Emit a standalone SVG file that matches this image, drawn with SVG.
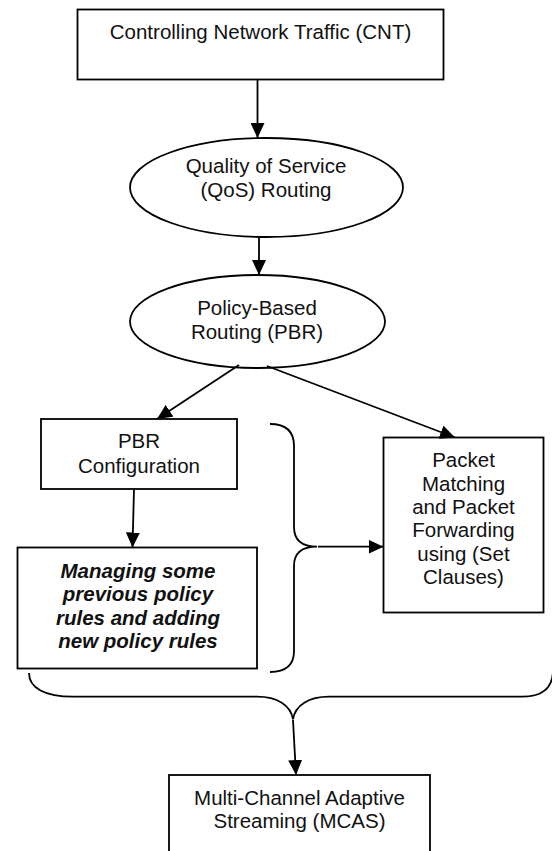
<svg xmlns="http://www.w3.org/2000/svg" width="552" height="851" viewBox="0 0 552 851">
<style>
.shape{fill:#fff;stroke:#000;stroke-width:1.8}
.brace{fill:none;stroke:#000;stroke-width:1.8}
.conn{fill:none;stroke:#000;stroke-width:1.8}
text{font-family:"Liberation Sans",Arial,sans-serif;font-size:20.5px;fill:#111;text-anchor:middle}
.bi{font-weight:bold;font-style:italic}
</style>
<defs>
<marker id="arr" markerUnits="userSpaceOnUse" markerWidth="15" markerHeight="14" viewBox="0 0 15 14" refX="15" refY="7" orient="auto">
<path d="M0,0 L15,7 L0,14 z" fill="#000"/>
</marker>
</defs>
<rect width="552" height="851" fill="#fff"/>
<g id="cnt">
<rect class="shape" x="77.5" y="9.5" width="366" height="70"/>
<text x="260.5" y="39">Controlling Network Traffic (CNT)</text>
</g>
<g id="qos">
<ellipse class="shape" cx="266.5" cy="187.5" rx="136.5" ry="49.5"/>
<text x="266" y="173">Quality of Service</text>
<text x="266" y="197">(QoS) Routing</text>
</g>
<g id="pbr">
<ellipse class="shape" cx="257.5" cy="321.5" rx="127.5" ry="46.5"/>
<text x="257" y="315">Policy-Based</text>
<text x="257" y="338.5">Routing (PBR)</text>
</g>
<g id="pbrconf">
<rect class="shape" x="41" y="419" width="196" height="70"/>
<text x="139" y="448">PBR</text>
<text x="139" y="472.5">Configuration</text>
</g>
<g id="managing">
<rect class="shape" x="17.5" y="547.5" width="239.5" height="121"/>
<text class="bi" x="138" y="577.5">Managing some</text>
<text class="bi" x="138" y="601">previous policy</text>
<text class="bi" x="138" y="624.5">rules and adding</text>
<text class="bi" x="138" y="647.5">new policy rules</text>
</g>
<g id="packet">
<rect class="shape" x="383.5" y="437.5" width="160" height="175"/>
<text x="463.5" y="467.3">Packet</text>
<text x="463.5" y="490.6">Matching</text>
<text x="463.5" y="513.9">and Packet</text>
<text x="463.5" y="537.2">Forwarding</text>
<text x="463.5" y="560.5">using (Set</text>
<text x="463.5" y="583.8">Clauses)</text>
</g>
<g id="mcas">
<rect class="shape" x="169" y="775" width="261" height="90"/>
<text x="299.5" y="805">Multi-Channel Adaptive</text>
<text x="299.5" y="828">Streaming (MCAS)</text>
</g>
<g id="braces">
<path class="brace" d="M270,424 C286,424 294,432 294,446 L294,527 C294,540 302,546.7 317,546.7 C302,546.7 294,553 294,566 L294,651 C294,665 286,672 270,672"/>
<path class="brace" d="M29,673 C29,688 45,696.7 73,696.7 L257,696.7 C277,696.7 291,705 293,719.5 C295,705 309,696.7 329,696.7 L522,696.7 C542,696.7 553,688 553,670"/>
</g>
<g id="connectors">
<line class="conn" x1="257.5" y1="79.5" x2="257.5" y2="138" marker-end="url(#arr)"/>
<line class="conn" x1="259" y1="237" x2="259" y2="275" marker-end="url(#arr)"/>
<line class="conn" x1="239" y1="365" x2="157" y2="419" marker-end="url(#arr)"/>
<line class="conn" x1="267" y1="366" x2="455" y2="437.5" marker-end="url(#arr)"/>
<line class="conn" x1="134" y1="489" x2="132.5" y2="547.5" marker-end="url(#arr)"/>
<line class="conn" x1="318" y1="546.7" x2="383.5" y2="546.7" marker-end="url(#arr)"/>
<line class="conn" x1="293" y1="720" x2="296" y2="775" marker-end="url(#arr)"/>
</g>
</svg>
